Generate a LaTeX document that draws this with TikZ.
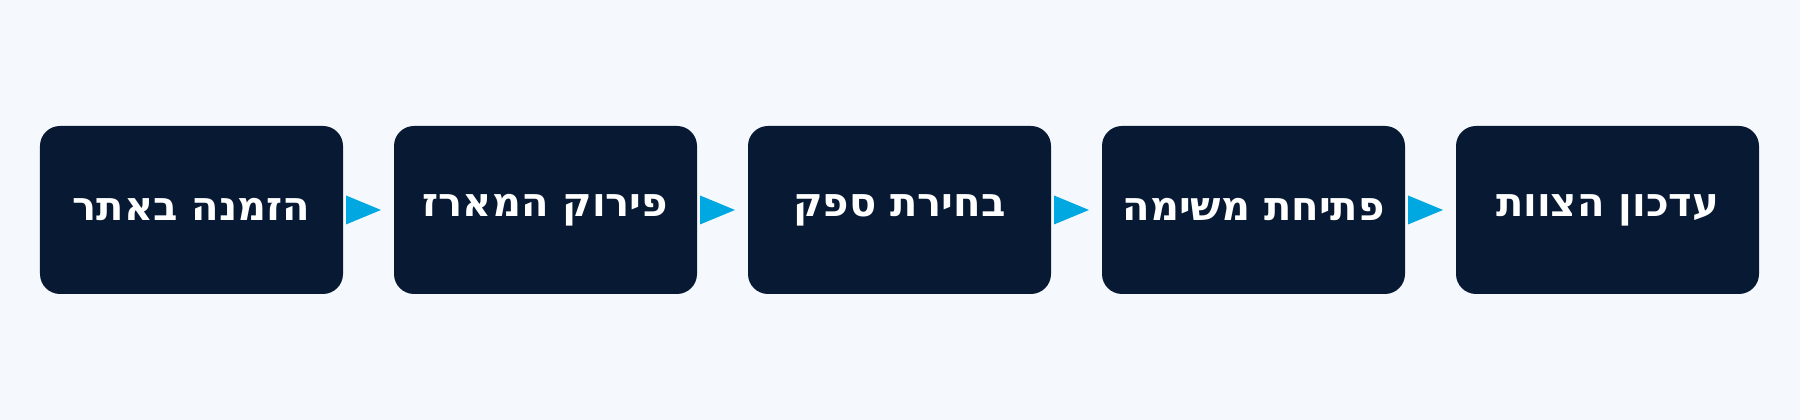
\documentclass[tikz,border=0pt]{standalone}
\usepackage{fontspec}
\TeXXeTstate=1
\newfontfamily\hebfont[Script=Hebrew]{DejaVu Sans}
\usetikzlibrary{positioning,arrows.meta}

\definecolor{pagebg}{HTML}{F5F9FD}
\definecolor{boxnavy}{HTML}{081A33}
\definecolor{tipblue}{HTML}{00A8E1}

\tikzset{
  stepbox/.style={fill=boxnavy, rounded corners=2mm, minimum width=30.3mm,
    minimum height=16.8mm, inner sep=0pt, outer sep=0pt, text=white,
    font=\hebfont\bfseries\fontsize{11.4pt}{13pt}\selectfont},
  flow/.style={draw=none, fill=tipblue}
}

\begin{document}
\begin{tikzpicture}
\fill[pagebg] (0,0) rectangle (18,4.2);
\useasboundingbox (0,0) rectangle (18,4.2);

\node[stepbox] (order) at (1.915,2.1) {\beginR הזמנה באתר\endR};
\node[stepbox, right=5.1mm of order] (unpack) {\beginR פירוק המארז\endR};
\node[stepbox, right=5.1mm of unpack] (supplier) {\beginR בחירת ספק\endR};
\node[stepbox, right=5.1mm of supplier] (task) {\beginR פתיחת משימה\endR};
\node[stepbox, right=5.1mm of task] (team) {\beginR עדכון הצוות\endR};

\foreach\a/\b in {order/unpack, unpack/supplier, supplier/task, task/team}
  {
  % triangle pointing to the next step
  \fill[flow] ([xshift=0.3mm]\a.east) -- ++(0,1.45mm) -- ([xshift=-1.3mm]\b.west) -- ([xshift=0.3mm,yshift=-1.45mm]\a.east) -- cycle;
  }

\end{tikzpicture}
\end{document}
